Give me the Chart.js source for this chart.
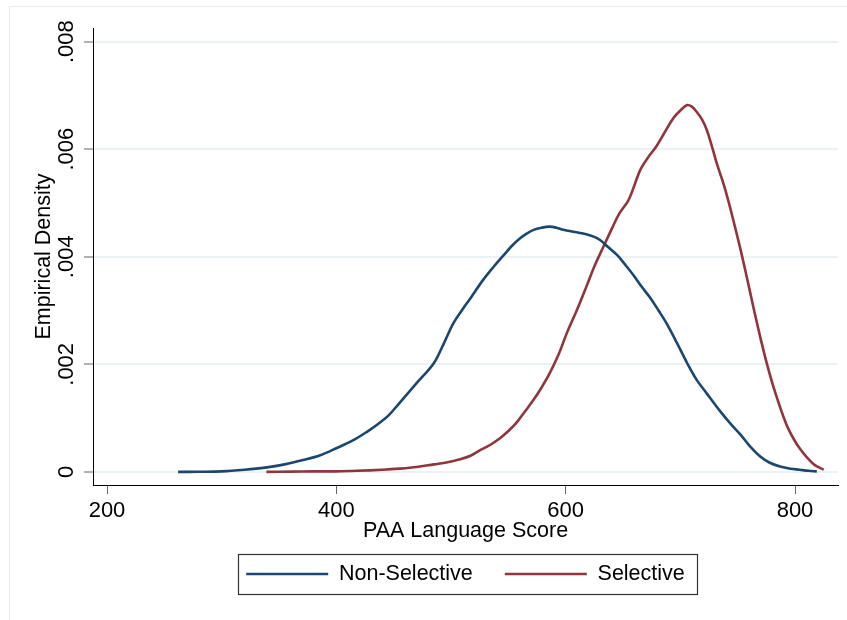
<!DOCTYPE html>
<html>
<head>
<meta charset="utf-8">
<script src="https://cdn.jsdelivr.net/npm/chart.js@4.4.1/dist/chart.umd.min.js"></script>
<style>
  html, body { margin: 0; padding: 0; background: #ffffff; }
  canvas { display: block; }
</style>
</head>
<body>
<canvas id="densityChart" width="847" height="620"></canvas>
<script>
// Kernel density estimates of the PAA language score by school type
const seriesNames = ['Non-Selective', 'Selective'];

const nonSelScore = [262, 280, 300, 320, 338, 355, 371, 386, 400, 414, 427, 437, 446, 455, 470, 485, 494, 502, 510, 517,
  528, 537, 546, 553, 560, 566, 572, 579, 586, 592, 598, 608, 618, 625, 630, 637, 645, 652, 659, 666,
  674, 681, 688, 697, 706, 714, 723, 735, 746, 753, 761, 770, 778, 787, 796, 804, 812, 819];
const nonSelDensity = [0, 0.000003, 0.00001, 0.00004, 0.00008, 0.00014, 0.00022, 0.00031, 0.00044, 0.00058, 0.00075, 0.00090, 0.00106, 0.00128, 0.00165, 0.00202, 0.00240, 0.00276, 0.00302, 0.00323,
  0.00357, 0.00381, 0.00403, 0.00420, 0.00434, 0.00443, 0.00450, 0.00454, 0.00456, 0.00454, 0.00450, 0.00446, 0.00442, 0.00437, 0.00431, 0.00418, 0.00403, 0.00385, 0.00366, 0.00345,
  0.00323, 0.00300, 0.00276, 0.00240, 0.00202, 0.00172, 0.00146, 0.00112, 0.00084, 0.00068, 0.00047, 0.00028, 0.00017, 0.00010, 0.00006, 0.00004, 0.00002, 0.00001];

const selScore = [339, 360, 380, 400, 418, 440, 455, 470, 485, 497, 507, 517, 525, 534, 543, 550, 557, 564, 572, 579,
  586, 594, 601, 610, 618, 625, 633, 640, 647, 655, 665, 672, 679, 686, 694, 700, 706, 710, 714, 719,
  723, 728, 732, 737, 742, 747, 752, 756, 759, 762, 765, 768, 771, 775, 779, 783, 790, 794, 800, 805,
  810, 817, 825];
const selDensity = [0, 0.000005, 0.00001, 0.00001, 0.00002, 0.00004, 0.00006, 0.00009, 0.00014, 0.00018, 0.00023, 0.00030, 0.00040, 0.00050, 0.00063, 0.00076, 0.00091, 0.00111, 0.00134, 0.00157,
  0.00183, 0.00219, 0.00258, 0.00302, 0.00344, 0.00382, 0.00419, 0.00451, 0.00481, 0.00506, 0.00561, 0.00585, 0.00605, 0.00630, 0.00658, 0.00672, 0.00682, 0.00679, 0.00670, 0.00655,
  0.00636, 0.00602, 0.00572, 0.00540, 0.00503, 0.00461, 0.00418, 0.00381, 0.00352, 0.00323, 0.00294, 0.00266, 0.00239, 0.00205, 0.00174, 0.00146, 0.00102, 0.00081, 0.00057, 0.00041,
  0.00028, 0.00013, 0.00004];

const xTickValues = [200, 400, 600, 800];
const yTickValues = [0, 0.002, 0.004, 0.006, 0.008];

const FONT = "'Liberation Sans', Arial, Helvetica, sans-serif";
const NAVY = '#1a476f';
const MAROON = '#90353b';
const GRID = '#eaf2f3';

const toPoints = (xs, ys) => xs.map((x, i) => ({ x: x, y: ys[i] }));

// White page with a faint frame around the graph region
const backgroundPlugin = {
  id: 'graphBackground',
  beforeDraw(chart) {
    const ctx = chart.ctx;
    ctx.save();
    ctx.fillStyle = '#ffffff';
    ctx.fillRect(0, 0, chart.width, chart.height);
    ctx.strokeStyle = '#e4ecf0';
    ctx.lineWidth = 1;
    ctx.beginPath();
    ctx.moveTo(9.5, chart.height);
    ctx.lineTo(9.5, 6.5);
    ctx.lineTo(chart.width, 6.5);
    ctx.stroke();
    ctx.restore();
  }
};

// Outline box around the legend entries
const legendBoxPlugin = {
  id: 'legendOutline',
  afterDraw(chart) {
    const lg = chart.legend;
    if (!lg || !lg.legendHitBoxes || !lg.legendHitBoxes.length) return;
    const hb = lg.legendHitBoxes;
    const first = hb[0], last = hb[hb.length - 1];
    const left = Math.round(first.left - 8);
    const right = Math.round(last.left + last.width + 12);
    const cy = first.top + first.height / 2;
    const top = Math.round(cy - 20);
    const ctx = chart.ctx;
    ctx.save();
    ctx.strokeStyle = '#333333';
    ctx.lineWidth = 1.2;
    ctx.strokeRect(left + 0.5, top + 0.5, right - left, 40);
    ctx.restore();
  }
};

new Chart(document.getElementById('densityChart'), {
  type: 'line',
  data: {
    datasets: [
      {
        label: seriesNames[0],
        data: toPoints(nonSelScore, nonSelDensity),
        borderColor: NAVY,
        backgroundColor: NAVY,
        borderWidth: 2.6,
        pointRadius: 0,
        fill: false,
        tension: 0.35,
        borderJoinStyle: 'round'
      },
      {
        label: seriesNames[1],
        data: toPoints(selScore, selDensity),
        borderColor: MAROON,
        backgroundColor: MAROON,
        borderWidth: 2.6,
        pointRadius: 0,
        fill: false,
        tension: 0.35,
        borderJoinStyle: 'round'
      }
    ]
  },
  options: {
    responsive: false,
    devicePixelRatio: 1,
    animation: false,
    layout: { padding: { top: 28, right: 9, bottom: 25.25, left: 0 } },
    plugins: {
      tooltip: { enabled: false },
      legend: {
        position: 'bottom',
        align: 'center',
        fullSize: false,
        labels: {
          boxWidth: 82,
          boxHeight: 2.5,
          padding: 32,
          color: '#000000',
          font: { family: FONT, size: 21.5 },
          generateLabels(chart) {
            return chart.data.datasets.map((ds, i) => ({
              text: ds.label,
              fillStyle: ds.borderColor,
              strokeStyle: ds.borderColor,
              lineWidth: 0,
              hidden: false,
              datasetIndex: i,
              fontColor: '#000000'
            }));
          }
        }
      }
    },
    scales: {
      x: {
        type: 'linear',
        min: 187.79,
        max: 837.5,
        afterBuildTicks: s => { s.ticks = xTickValues.map(v => ({ value: v })); },
        afterFit: s => { s.height = 46.25; },
        ticks: {
          padding: 4,
          color: '#000000',
          autoSkip: false,
          maxRotation: 0,
          minRotation: 0,
          font: { family: FONT, size: 22 }
        },
        grid: {
          drawOnChartArea: false,
          drawTicks: true,
          tickLength: 9,
          tickColor: '#666666',
          tickWidth: 1
        },
        border: { display: true, color: '#000000', width: 1 },
        title: {
          display: true,
          text: 'PAA Language Score',
          color: '#000000',
          font: { family: FONT, size: 21.5 },
          padding: { top: 0, bottom: -13.15 }
        }
      },
      y: {
        type: 'linear',
        min: -0.0002436,
        max: 0.0082529,
        afterBuildTicks: s => { s.ticks = yTickValues.map(v => ({ value: v })); },
        afterFit: s => { s.width = 93; },
        ticks: {
          minRotation: 90,
          maxRotation: 90,
          crossAlign: 'center',
          padding: -4,
          color: '#000000',
          font: { family: FONT, size: 22 },
          callback: v => (v === 0 ? '0' : '.' + Number(v).toFixed(3).split('.')[1])
        },
        grid: {
          color: GRID,
          lineWidth: 2,
          drawTicks: true,
          tickLength: 9,
          tickColor: '#666666',
          tickWidth: 1
        },
        border: { display: true, color: '#000000', width: 1 },
        title: {
          display: true,
          text: 'Empirical Density',
          color: '#000000',
          font: { family: FONT, size: 21.5 },
          padding: { top: 31, bottom: 0 }
        }
      }
    }
  },
  plugins: [backgroundPlugin, legendBoxPlugin]
});
</script>
</body>
</html>
